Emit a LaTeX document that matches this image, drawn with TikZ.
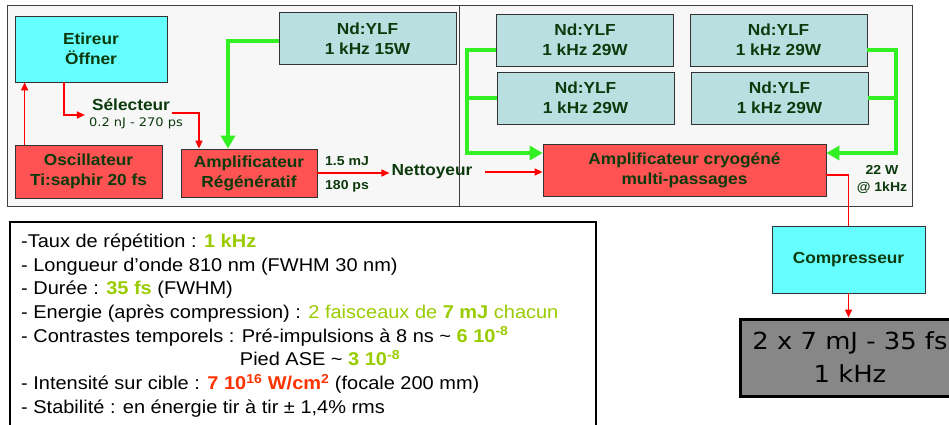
\documentclass[tikz,border=0pt]{standalone}
\usepackage{fontspec}
\setmainfont{Liberation Sans}[FakeStretch=1.08]
\newfontfamily\dejavu{DejaVu Sans}[FakeStretch=1.1]
\usepackage{xcolor}
\usepackage{tikz}
\usetikzlibrary{arrows.meta}
\definecolor{txtgreen}{HTML}{0C3A0C}
\definecolor{cyanbox}{HTML}{66FFFF}
\definecolor{pumpbox}{HTML}{B9DFE1}
\definecolor{ampbox}{HTML}{FF5252}
\definecolor{pumpgreen}{HTML}{33F022}
\definecolor{panelgrey}{HTML}{F7F7F7}
\definecolor{kgreen}{HTML}{99CC00}
\definecolor{kred}{HTML}{FF3300}
\tikzset{
  block/.style={draw=black!80, line width=0.8pt, inner sep=0pt, align=center,
                text=txtgreen, font=\fontsize{16}{20}\selectfont\bfseries},
  stretcher/.style={block, fill=cyanbox},
  pump/.style={block, fill=pumpbox, minimum width=177pt, minimum height=52pt},
  amp/.style={block, fill=ampbox},
  tag/.style={text=txtgreen, font=\fontsize{16}{20}\selectfont\bfseries, inner sep=2pt},
  smalltag/.style={text=txtgreen, font=\fontsize{13}{17}\selectfont\bfseries,
                   align=center, inner sep=1pt},
  pulsetag/.style={text=txtgreen, font=\dejavu\fontsize{11.8}{14}\selectfont, inner sep=1pt},
  panel/.style={draw=black!75, line width=1pt, fill=panelgrey},
  specs/.style={align=left, inner sep=0pt, font=\fontsize{18.5}{23.7}\selectfont},
  result/.style={draw=black, line width=3pt, fill=black!47, minimum width=220pt,
                 minimum height=77pt, align=center, font=\dejavu\fontsize{23.5}{33}\selectfont},
  beam/.style={-{Triangle[length=8pt,width=7pt]}, red, line width=1.4pt},
  pumpline/.style={pumpgreen, line width=4pt},
  pumparrow/.style={pumpline, -{Triangle[length=13pt,width=14pt]}}
}
\begin{document}
\begin{tikzpicture}[x=1pt, y=-1pt]
  \useasboundingbox (0,0) rectangle (949,425);
  \clip (0,0) rectangle (949,425);
  \draw[panel] (7,6) rectangle (459,206);
  \draw[panel] (459,6) rectangle (912,206);

  \node[stretcher, minimum width=152pt, minimum height=66pt] (etireur) at (91,49) {Etireur\\Öffner};
  \node[pump] (yfl) at (367.5,38.5) {Nd:YLF\\1 kHz 15W};
  \node[amp, minimum width=147pt, minimum height=53pt] (osc) at (88.5,171.5) {Oscillateur\\Ti:saphir 20 fs};
  \node[amp, minimum width=136pt, minimum height=48pt] (regen) at (249,173) {Amplificateur\\Régénératif};
  \node[tag] (sel) at (131,105) {Sélecteur};
  \node[pulsetag] (pulse) at (136,123) {0.2 nJ - 270 ps};
  \node[smalltag] (energy) at (347,161) {1.5 mJ};
  \node[smalltag] (duration) at (347,186) {180 ps};
  \node[tag] (nett) at (432,172) {Nettoyeur};

  \node[pump] (yflA) at (585,40) {Nd:YLF\\1 kHz 29W};
  \node[pump] (yflB) at (778.5,40) {Nd:YLF\\1 kHz 29W};
  \node[pump] (yflC) at (585.5,98) {Nd:YLF\\1 kHz 29W};
  \node[pump] (yflD) at (779.5,98) {Nd:YLF\\1 kHz 29W};
  \node[amp, minimum width=283pt, minimum height=52pt] (cryo) at (684.5,170) {Amplificateur cryogéné\\multi-passages};
  \node[smalltag] (power) at (882,179.5) {22 W\\@ 1kHz};

  \node[stretcher, minimum width=153pt, minimum height=67pt] (comp) at (848.5,259.5) {Compresseur};
  \node[result] (out) at (850,357.5) {2 x 7 mJ - 35 fs\\1 kHz};

  \draw[line width=2pt, fill=white] (10,222) rectangle (596,440);
  \node[specs, anchor=north west] (specs) at (21,233.5) {%
    -Taux de répétition : {\color{kgreen}\textbf{1 kHz}}\\
    - Longueur d’onde 810 nm (FWHM 30 nm)\\
    - Durée : {\color{kgreen}\textbf{35 fs}} (FWHM)\\
    - Energie (après compression) : {\color{kgreen}2 faisceaux de \textbf{7 mJ} chacun}\\
    - Contrastes temporels : Pré-impulsions à 8 ns \char"7E\ {\color{kgreen}\textbf{6 10\textsuperscript{-8}}}\\
    \phantom{- Contrastes temporels :}\ Pied ASE \char"7E\ {\color{kgreen}\textbf{3 10\textsuperscript{-8}}}\\
    - Intensité sur cible : {\color{kred}\textbf{7 10\textsuperscript{16} W/cm\textsuperscript{2}}} (focale 200 mm)\\
    - Stabilité : en énergie tir à tir ± 1,4\% rms};

  \draw[beam] ([xshift=10pt]osc.north west) -- ([xshift=10pt]etireur.south west);
  \draw[beam] ([xshift=-27pt]etireur.south) |- ([xshift=-5pt,yshift=-10pt]sel.west);
  \draw[beam] ([yshift=-8pt]sel.east) -| ([xshift=-50pt]regen.north);
  \draw[pumparrow] ([yshift=-3pt]yfl.west) -| ([xshift=-21pt]regen.north);
  \draw[beam] (regen.east) -- (regen.east -| nett.west);
  \draw[beam, shorten <=10pt] (nett.east) -- (nett.east -| cryo.west);

  \draw[pumparrow] ([yshift=-10pt]yflA.west) -- ++(-29pt,0) coordinate (gl) |- ([yshift=17pt]cryo.west);
  \draw[pumpline] (yflC.west) -- (yflC.west -| gl);
  \draw[pumparrow] ([yshift=-10pt]yflB.east) -- ++(29pt,0) coordinate (gr) |- ([yshift=17pt]cryo.east);
  \draw[pumpline] (yflD.east) -- (yflD.east -| gr);

  \draw[red, line width=1.4pt] ([yshift=-5pt]cryo.east) -| (comp.north);
  \draw[beam] (comp.south) -- (comp.south |- out.north);
\end{tikzpicture}
\end{document}
